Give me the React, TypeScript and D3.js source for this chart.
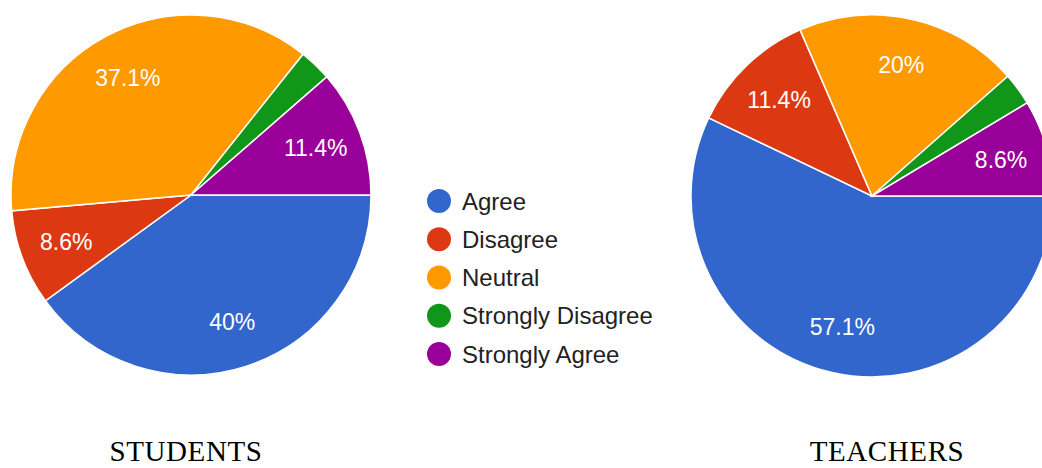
import React from "react";
import * as d3 from "d3";

const categories = ["Agree", "Disagree", "Neutral", "Strongly Disagree", "Strongly Agree"];
const studentValues = [40, 8.6, 37.1, 2.9, 11.4];
const teacherValues = [57.1, 11.4, 20, 2.9, 8.6];
const studentLabels = ["40%", "8.6%", "37.1%", "", "11.4%"];
const teacherLabels = ["57.1%", "11.4%", "20%", "", "8.6%"];
const colors = ["#3366cc", "#dc3912", "#ff9900", "#109618", "#990099"];
const titles = ["STUDENTS", "TEACHERS"];

const W = 1042;
const H = 468;

function Pie({ cx, cy, r, values, labels }: { cx: number; cy: number; r: number; values: number[]; labels: string[] }) {
  const pie = d3
    .pie<number>()
    .sort(null)
    .startAngle(Math.PI / 2)
    .endAngle(Math.PI / 2 + 2 * Math.PI);
  const arcs = pie(values);
  const arc = d3.arc<d3.PieArcDatum<number>>().innerRadius(0).outerRadius(r);
  const labelArc = d3.arc<d3.PieArcDatum<number>>().innerRadius(r * 0.74).outerRadius(r * 0.74);
  const color = d3.scaleOrdinal<number, string>().domain(d3.range(categories.length)).range(colors);
  return (
    <g transform={`translate(${cx},${cy})`}>
      {arcs.map((a, i) => (
        <path key={i} d={arc(a) || ""} fill={color(i)} stroke="#ffffff" strokeWidth={1.5} />
      ))}
      {arcs.map((a, i) => {
        const [x, y] = labelArc.centroid(a);
        return labels[i] ? (
          <text
            key={"t" + i}
            x={x}
            y={y}
            textAnchor="middle"
            dominantBaseline="central"
            fill="#ffffff"
            fontFamily="Arial, 'Liberation Sans', sans-serif"
            fontSize={23}
          >
            {labels[i]}
          </text>
        ) : null;
      })}
    </g>
  );
}

export default function App() {
  const legendY = d3.scalePoint<string>().domain(categories).range([201, 354]);
  return (
    <svg width={W} height={H} style={{ position: "absolute", left: 0, top: 0, background: "#fff" }}>
      <Pie cx={191} cy={195} r={180} values={studentValues} labels={studentLabels} />
      <Pie cx={872} cy={196} r={181} values={teacherValues} labels={teacherLabels} />
      <g>
        {categories.map((c, i) => (
          <g key={c} transform={`translate(0,${legendY(c)})`}>
            <circle cx={439} cy={0} r={12} fill={colors[i]} />
            <text
              x={462}
              y={0}
              dominantBaseline="central"
              fill="#222222"
              fontFamily="Arial, 'Liberation Sans', sans-serif"
              fontSize={24}
            >
              {c}
            </text>
          </g>
        ))}
      </g>
      <text x={186} y={461} textAnchor="middle" fontFamily="'Liberation Serif', 'Times New Roman', serif" fontSize={29} letterSpacing={0.6} fill="#000">
        {titles[0]}
      </text>
      <text x={887} y={461} textAnchor="middle" fontFamily="'Liberation Serif', 'Times New Roman', serif" fontSize={29} letterSpacing={0.6} fill="#000">
        {titles[1]}
      </text>
    </svg>
  );
}
